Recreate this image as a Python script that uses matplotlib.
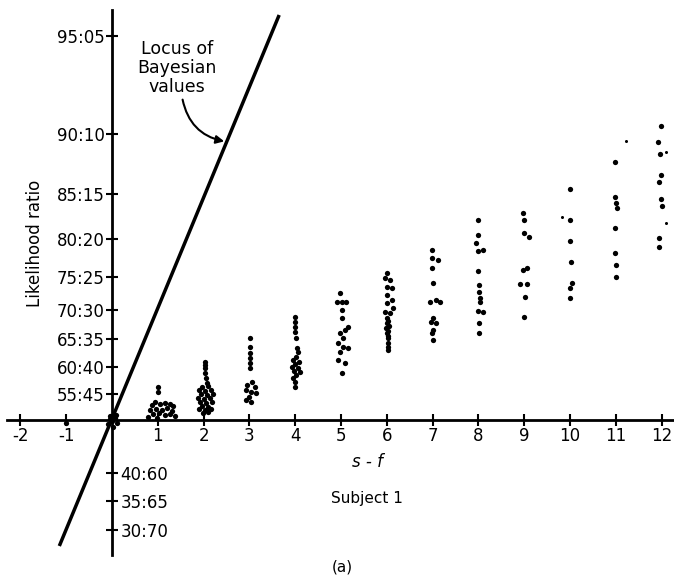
"""Likelihood-ratio estimates vs s-f, subject 1, with the Bayesian locus."""
import numpy as np
import matplotlib
matplotlib.use("Agg")
import matplotlib.pyplot as plt

# s-f (x, as drawn with jitter) and log10 of the estimated likelihood ratio
sf = [
    -1.0,
    -0.04, 0.07, 0.0, -0.09, 0.11, 0.02, -0.04, 0.09,
    1.00, 1.00, 0.94, 0.87, 1.05, 1.16, 1.27, 1.33, 0.83, 0.96, 1.09, 1.20, 1.31,
    0.90, 1.03, 1.16, 1.27, 1.38, 0.98, 0.79,
    2.03, 2.03, 2.03, 2.03, 2.05, 2.07, 1.97, 2.10, 1.90, 2.03, 2.16, 1.94, 2.07,
    2.21, 1.88, 2.01, 2.14, 1.92, 2.05, 2.18, 1.97, 2.10, 1.90, 2.03, 2.16, 1.99, 2.10,
    3.01, 3.01, 3.01, 3.01, 3.01, 3.01, 3.06, 2.95, 3.12, 2.93, 3.03, 3.14, 2.99, 2.93, 3.03,
    4.00, 4.00, 4.00, 4.00, 4.02, 4.04, 4.06, 4.02, 3.95, 4.08, 4.00, 3.93, 4.06,
    3.97, 4.10, 4.02, 3.95, 4.00, 4.00,
    4.98, 4.91, 5.02, 5.11, 5.02, 5.02, 5.15, 5.09, 4.98, 5.04, 4.93, 5.04, 5.15,
    4.98, 4.93, 5.09, 5.02,
    6.00, 5.96, 6.07, 6.00, 6.11, 6.00, 6.11, 6.00, 6.14, 5.96, 6.07, 6.00, 6.03,
    6.00, 6.05, 5.98, 6.03, 6.00, 6.03, 6.03, 6.03, 6.03, 6.03,
    6.99, 6.99, 7.12, 6.99, 7.01, 6.94, 7.07, 7.16, 7.01, 6.97, 7.07, 7.01, 6.99, 7.01,
    7.99, 7.99, 7.95, 7.99, 8.10, 7.99, 8.01, 8.01, 8.03, 8.03, 7.99, 8.10, 8.01, 8.01,
    8.98, 9.00, 9.00, 9.10, 9.06, 8.98, 8.91, 9.06, 9.02, 9.00,
    10.00, 10.00, 10.00, 10.02, 10.04, 10.00, 10.00,
    10.98, 10.98, 11.00, 11.03, 10.98, 10.98, 11.00, 11.00,
    11.99, 11.92, 11.97, 11.99, 11.94, 11.99, 12.01, 11.94, 11.94,
]
log_lr = [
    -0.01,
    0.013, 0.007, -0.003, -0.013, -0.01, -0.023, 0.003, 0.017,
    0.11, 0.093, 0.06, 0.05, 0.053, 0.057, 0.053, 0.047, 0.033, 0.037, 0.033, 0.04, 0.03,
    0.02, 0.023, 0.017, 0.02, 0.013, 0.007, 0.01,
    0.193, 0.183, 0.173, 0.157, 0.14, 0.123, 0.11, 0.113, 0.10, 0.097, 0.10, 0.087, 0.083,
    0.087, 0.073, 0.07, 0.073, 0.06, 0.057, 0.06, 0.047, 0.043, 0.037, 0.033, 0.037, 0.023, 0.027,
    0.273, 0.243, 0.223, 0.207, 0.19, 0.173, 0.127, 0.117, 0.11, 0.10, 0.093, 0.09, 0.077, 0.067, 0.06,
    0.343, 0.327, 0.31, 0.293, 0.273, 0.24, 0.227, 0.21, 0.20, 0.193, 0.187, 0.177, 0.173,
    0.163, 0.16, 0.15, 0.14, 0.127, 0.11,
    0.423, 0.393, 0.393, 0.393, 0.367, 0.34, 0.31, 0.30, 0.29, 0.273, 0.257, 0.243, 0.24,
    0.227, 0.20, 0.19, 0.157,
    0.49, 0.473, 0.467, 0.443, 0.44, 0.417, 0.40, 0.39, 0.373, 0.36, 0.357, 0.34, 0.33,
    0.323, 0.313, 0.307, 0.297, 0.29, 0.28, 0.273, 0.257, 0.243, 0.233,
    0.567, 0.54, 0.533, 0.507, 0.457, 0.393, 0.40, 0.393, 0.34, 0.327, 0.323, 0.30, 0.29, 0.267,
    0.667, 0.617, 0.59, 0.563, 0.567, 0.497, 0.45, 0.427, 0.407, 0.393, 0.363, 0.36, 0.323, 0.29,
    0.69, 0.667, 0.623, 0.61, 0.507, 0.50, 0.453, 0.453, 0.41, 0.343,
    0.77, 0.667, 0.597, 0.527, 0.457, 0.44, 0.407,
    0.86, 0.743, 0.723, 0.707, 0.64, 0.557, 0.517, 0.477,
    0.98, 0.927, 0.887, 0.817, 0.793, 0.737, 0.713, 0.607, 0.577,
]
# faint, half-printed dots
faint_sf = [9.83, 11.22, 12.10, 12.10]
faint_lr = [0.677, 0.93, 0.893, 0.657]

# locus of Bayesian values (end points as drawn)
bayes_sf = [-1.15, 3.65]
bayes_lr = [-0.42, 1.35]

x_ticks = [-2, -1, 1, 2, 3, 4, 5, 6, 7, 8, 9, 10, 11, 12]
x_tick_labels = ["-2", "-1", "1", "2", "3", "4", "5", "6", "7", "8", "9", "10", "11", "12"]
upper_ratios = [(95, 5), (90, 10), (85, 15), (80, 20), (75, 25), (70, 30), (65, 35), (60, 40), (55, 45)]
lower_ratios = [(40, 60), (35, 65), (30, 70)]


def ratio_label(a, b):
    return f"{a:02d}:{b:02d}"


fig = plt.figure(figsize=(6.74, 5.76), dpi=100)
ax = fig.add_axes([0, 0, 1, 1])
ax.set_xlim(-2.445, 12.27)
ax.set_ylim(-0.52, 1.40)

ax.spines["top"].set_visible(False)
ax.spines["right"].set_position(("data", 0))
ax.spines["right"].set_visible(False)
ax.spines["left"].set_position(("data", 0))
ax.spines["bottom"].set_position(("data", 0))
ax.spines["left"].set_bounds(-0.45, 1.367)
ax.spines["bottom"].set_bounds(-2.29, 12.27)
for s in ("left", "bottom"):
    ax.spines[s].set_linewidth(2.0)

ax.set_xticks(x_ticks, labels=x_tick_labels)
ax.set_yticks([np.log10(a / b) for a, b in upper_ratios],
              labels=[ratio_label(a, b) for a, b in upper_ratios])
ax.set_yticks([np.log10(a / b) for a, b in lower_ratios],
              labels=[ratio_label(a, b) for a, b in lower_ratios], minor=True)
ax.tick_params(axis="both", which="both", direction="inout", length=8.5, width=1.5,
               labelsize=12, colors="black")
ax.tick_params(axis="x", top=False, pad=1)
ax.tick_params(axis="y", which="major", left=True, right=False,
               labelleft=True, labelright=False, pad=1)
ax.tick_params(axis="y", which="minor", left=True, right=False,
               labelleft=False, labelright=True, pad=2)

ax.plot(bayes_sf, bayes_lr, color="black", lw=2.5, solid_capstyle="butt", zorder=2)
ax.plot(sf, log_lr, "o", ms=3.8, mew=0, color="black", zorder=3)
ax.plot(faint_sf, faint_lr, "o", ms=2.2, mew=0, color="black", zorder=3)

ax.text(1.42, 1.173, "Locus of\nBayesian\nvalues", ha="center", va="center",
        fontsize=12.5, linespacing=1.1)
ax.annotate("", xy=(2.51, 0.927), xytext=(1.53, 1.077),
            arrowprops=dict(arrowstyle="-|>", color="black", lw=1.5,
                            mutation_scale=12,
                            connectionstyle="arc3,rad=0.35"))

fig.text(35 / 674, 1 - 243 / 576, "Likelihood ratio", rotation=90,
         ha="center", va="center", fontsize=12)
fig.text(367 / 674, 1 - 462 / 576, "s - f", style="italic",
         ha="center", va="center", fontsize=12)
fig.text(367 / 674, 1 - 498 / 576, "Subject 1", ha="center", va="center", fontsize=11)
fig.text(342 / 674, 1 - 567 / 576, "(a)", ha="center", va="center", fontsize=11)

fig.savefig("out.png", dpi=100)
